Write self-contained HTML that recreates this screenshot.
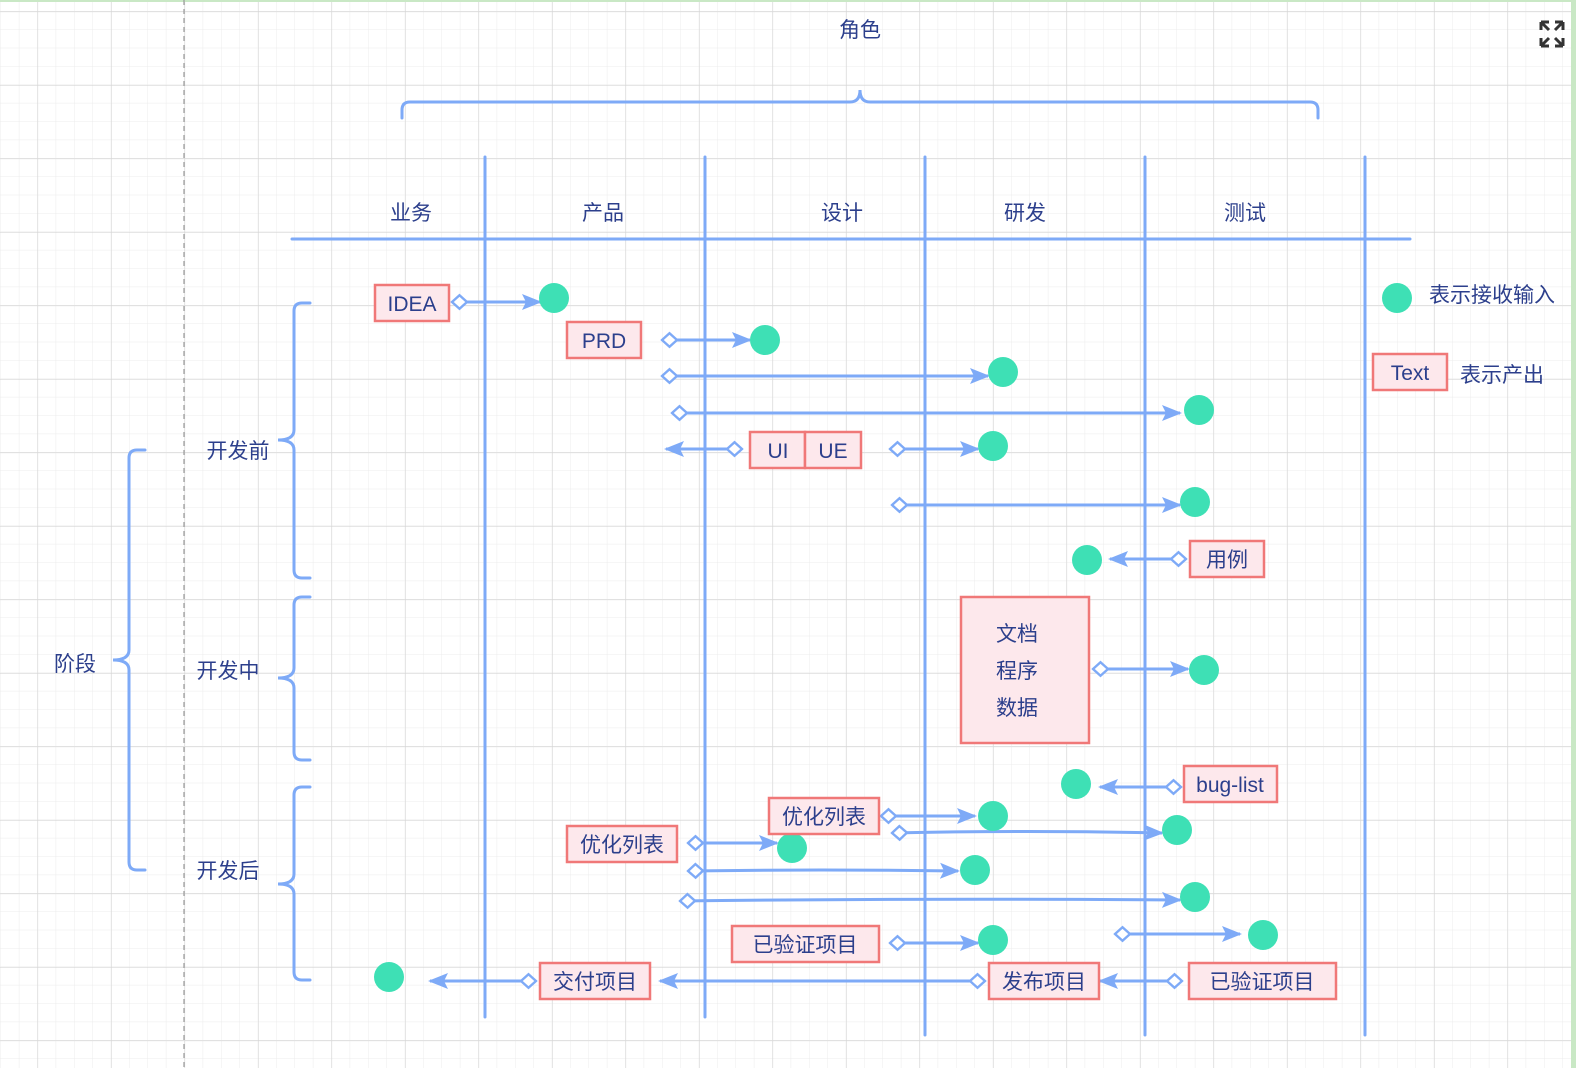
<!DOCTYPE html>
<html><head><meta charset="utf-8"><style>
html,body{margin:0;padding:0;background:#fff;}
svg{display:block;font-family:"Liberation Sans","Noto Sans CJK SC",sans-serif;}
</style></head><body>
<svg width="1576" height="1068" viewBox="0 0 1576 1068" xmlns="http://www.w3.org/2000/svg">
<defs>
<pattern id="minor" x="1" y="11.5" width="18.375" height="18.375" patternUnits="userSpaceOnUse">
<path d="M18.375 0V18.375M0 18.375H18.375" stroke="#ececec" stroke-width="1" fill="none"/>
</pattern>
<pattern id="major" x="37.5" y="11.5" width="73.5" height="73.5" patternUnits="userSpaceOnUse">
<path d="M0 0V73.5M0 0H73.5" stroke="#d6d6d6" stroke-width="1.2" fill="none"/>
</pattern>
<marker id="ah" viewBox="0 0 10 10" refX="9" refY="5" markerWidth="20" markerHeight="20" markerUnits="userSpaceOnUse" orient="auto">
<path d="M0 1L10 5L0 9L2 5Z" fill="#7eaaf7"/>
</marker>
<marker id="dm" viewBox="0 0 12 12" refX="1" refY="6" markerWidth="18" markerHeight="18" markerUnits="userSpaceOnUse" orient="auto">
<path d="M1 6L6 1.5L11 6L6 10.5Z" fill="#fff" stroke="#7eaaf7" stroke-width="1.6"/>
</marker>
</defs>
<rect width="1576" height="1068" fill="url(#minor)"/>
<rect width="1576" height="1068" fill="url(#major)"/>
<rect x="0" y="0" width="1576" height="2" fill="#c9e8c5"/>
<rect x="1571" y="0" width="5" height="1068" fill="#c9e8c5"/>
<line x1="184" y1="0" x2="184" y2="1068" stroke="#9a9a9a" stroke-width="1.2" stroke-dasharray="5,4"/>

<g stroke="#333" stroke-width="3" fill="none">
<path d="M1541 22h8M1541 22v8M1541 22l8 8M1563 22h-8M1563 22v8M1563 22l-8 8M1541 46h8M1541 46v-8M1541 46l8-8M1563 46h-8M1563 46v-8M1563 46l-8-8"/>
</g>

<g fill="#2c3f8c" font-size="21" text-anchor="middle">
<text x="860" y="37">角色</text>
<text x="411" y="220">业务</text>
<text x="603" y="220">产品</text>
<text x="842" y="220">设计</text>
<text x="1025" y="220">研发</text>
<text x="1245" y="220">测试</text>
<text x="75" y="671">阶段</text>
<text x="238" y="458">开发前</text>
<text x="228" y="678">开发中</text>
<text x="228" y="878">开发后</text>
<text x="1492" y="302">表示接收输入</text>
<text x="1502" y="382">表示产出</text>
</g>

<g stroke="#7eaaf7" stroke-width="3" fill="none" stroke-linecap="round">
<path d="M402 118V110Q402 102 410 102H850Q860 102 860 90Q860 102 870 102H1310Q1318 102 1318 110V118"/>
<line x1="292" y1="239" x2="1410" y2="239"/>
<line x1="485" y1="157" x2="485" y2="1017"/>
<line x1="705" y1="157" x2="705" y2="1017"/>
<line x1="925" y1="157" x2="925" y2="1035"/>
<line x1="1145" y1="157" x2="1145" y2="1035"/>
<line x1="1365" y1="157" x2="1365" y2="1035"/>
<path d="M145 450H137Q129 450 129 458V650Q129 660 113 660Q129 660 129 670V862Q129 870 137 870H145"/>
<path d="M310 303H302Q294 303 294 311V430Q294 440 278 440Q294 440 294 450V570Q294 578 302 578H310"/>
<path d="M310 597H302Q294 597 294 605V668Q294 678 278 678Q294 678 294 688V752Q294 760 302 760H310"/>
<path d="M310 787H302Q294 787 294 795V874Q294 884 278 884Q294 884 294 894V972Q294 980 302 980H310"/>
</g>

<g stroke="#7eaaf7" stroke-width="3" fill="none" marker-start="url(#dm)" marker-end="url(#ah)">
<path d="M452 302H540"/>
<path d="M662 340H750"/>
<path d="M662 376H988"/>
<path d="M672 413H1180"/>
<path d="M742 449H666"/>
<path d="M890 449H978"/>
<path d="M892 505H1180"/>
<path d="M1186 559H1110"/>
<path d="M1093 669H1188"/>
<path d="M1181 787H1100"/>
<path d="M881 816H975"/>
<path d="M892 833Q1030 830 1162 833"/>
<path d="M688 843H777"/>
<path d="M688 871Q820 869 958 871"/>
<path d="M680 901Q930 898 1180 900"/>
<path d="M890 943H978"/>
<path d="M1115 934H1240"/>
<path d="M536 981H430"/>
<path d="M985 981H660"/>
<path d="M1182 981H1100"/>
</g>

<g fill="#3ee0b5">
<circle cx="554" cy="298" r="15"/><circle cx="765" cy="340" r="15"/><circle cx="1003" cy="372" r="15"/>
<circle cx="1199" cy="410" r="15"/><circle cx="993" cy="446" r="15"/><circle cx="1195" cy="502" r="15"/>
<circle cx="1087" cy="560" r="15"/><circle cx="1204" cy="670" r="15"/><circle cx="1076" cy="784" r="15"/>
<circle cx="993" cy="816" r="15"/><circle cx="1177" cy="830" r="15"/><circle cx="792" cy="848" r="15"/>
<circle cx="975" cy="870" r="15"/><circle cx="1195" cy="897" r="15"/><circle cx="993" cy="940" r="15"/>
<circle cx="1263" cy="935" r="15"/><circle cx="389" cy="977" r="15"/><circle cx="1397" cy="298" r="15"/>
</g>

<g fill="#fde8ec" stroke="#f07878" stroke-width="2.5">
<rect x="375" y="285" width="74" height="36"/>
<rect x="567" y="322" width="74" height="36"/>
<rect x="750" y="432" width="55" height="36"/>
<rect x="805" y="432" width="56" height="36"/>
<rect x="1190" y="541" width="74" height="36"/>
<rect x="961" y="597" width="128" height="146"/>
<rect x="1184" y="766" width="93" height="36"/>
<rect x="769" y="798" width="110" height="36"/>
<rect x="567" y="826" width="110" height="36"/>
<rect x="732" y="926" width="147" height="36"/>
<rect x="540" y="963" width="110" height="36"/>
<rect x="989" y="963" width="110" height="36"/>
<rect x="1189" y="963" width="147" height="36"/>
<rect x="1373" y="354" width="74" height="36"/>
</g>
<g fill="#2c3f8c" font-size="21" text-anchor="middle">
<text x="412" y="311">IDEA</text>
<text x="604" y="348">PRD</text>
<text x="778" y="458">UI</text>
<text x="833" y="458">UE</text>
<text x="1227" y="567">用例</text>
<text x="1017" y="641">文档</text>
<text x="1017" y="678">程序</text>
<text x="1017" y="715">数据</text>
<text x="1230" y="792">bug-list</text>
<text x="824" y="824">优化列表</text>
<text x="622" y="852">优化列表</text>
<text x="805" y="952">已验证项目</text>
<text x="595" y="989">交付项目</text>
<text x="1044" y="989">发布项目</text>
<text x="1262" y="989">已验证项目</text>
<text x="1410" y="380">Text</text>
</g>
</svg>
</body></html>
